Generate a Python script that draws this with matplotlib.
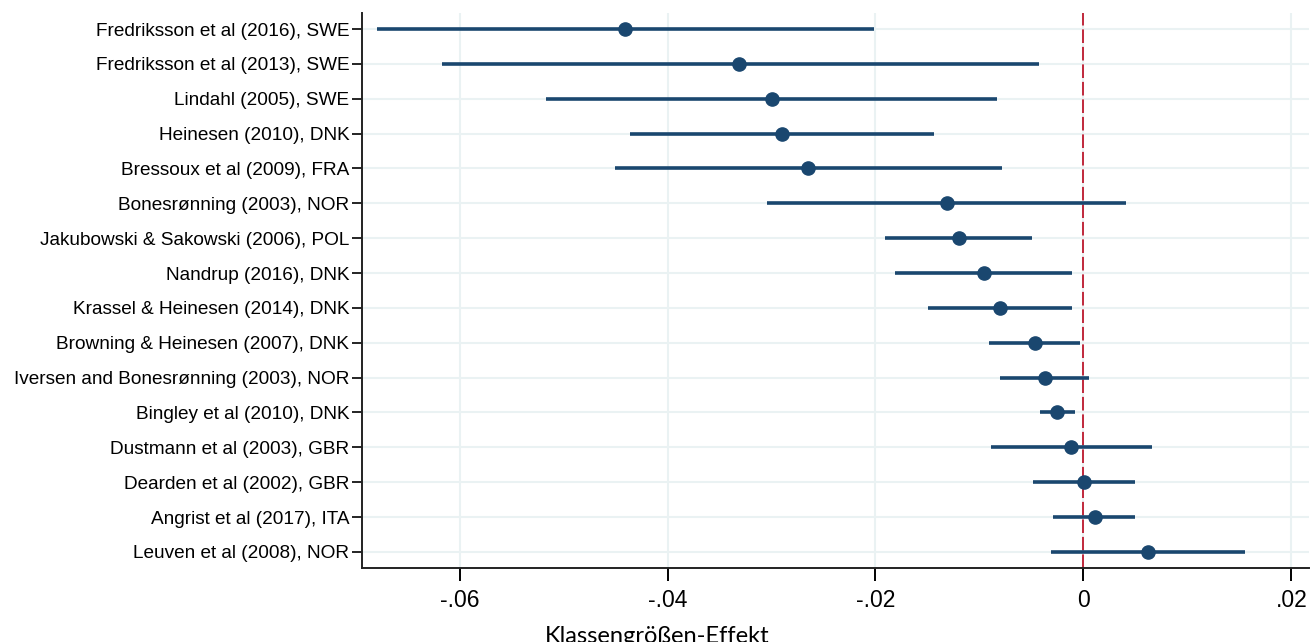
import numpy as np
import matplotlib
matplotlib.use("Agg")
import matplotlib.pyplot as plt

# ── Daten ──────────────────────────────────────────────────────────────────────

studies = [
    "Fredriksson et al (2016), SWE",
    "Fredriksson et al (2013), SWE",
    "Lindahl (2005), SWE",
    "Heinesen (2010), DNK",
    "Bressoux et al (2009), FRA",
    "Bonesrønning (2003), NOR",
    "Jakubowski & Sakowski (2006), POL",
    "Nandrup (2016), DNK",
    "Krassel & Heinesen (2014), DNK",
    "Browning & Heinesen (2007), DNK",
    "Iversen and Bonesrønning (2003), NOR",
    "Bingley et al (2010), DNK",
    "Dustmann et al (2003), GBR",
    "Dearden et al (2002), GBR",
    "Angrist et al (2017), ITA",
    "Leuven et al (2008), NOR",
]
effect = [-0.0441, -0.0331, -0.0300, -0.0290, -0.0265, -0.0131, -0.0120, -0.0096,
          -0.0080, -0.0047, -0.0037, -0.0025, -0.0012, 0.0001, 0.0011, 0.0062]
ci_low = [-0.0680, -0.0617, -0.0517, -0.0436, -0.0451, -0.0304, -0.0191, -0.0181,
          -0.0149, -0.0091, -0.0080, -0.0042, -0.0089, -0.0048, -0.0029, -0.0031]
ci_high = [-0.0201, -0.0043, -0.0083, -0.0144, -0.0078, 0.0041, -0.0049, -0.0011,
           -0.0011, -0.0003, 0.0005, -0.0008, 0.0066, 0.0050, 0.0050, 0.0155]
x_ticks = [-0.06, -0.04, -0.02, 0.0, 0.02]
x_ticklabels = ["-.06", "-.04", "-.02", "0", ".02"]
x_title = "Klassengrößen-Effekt"

NAVY = "#1a476f"
RED = "#c0283c"
GRID = "#eaf2f3"

# ── Plot ───────────────────────────────────────────────────────────────────────

fig = plt.figure(figsize=(13.1, 6.42), dpi=100)
ax = fig.add_axes([0.2763, 0.1153, 0.7229, 0.8645])

n = len(studies)
ypos = np.arange(n, 0, -1)

ax.hlines(ypos, ci_low, ci_high, color=NAVY, lw=2.6, zorder=3)
ax.plot(effect, ypos, "o", color=NAVY, ms=9.5, zorder=4)
ax.axvline(0, color=RED, lw=1.4, dashes=(7, 2), zorder=2)

ax.set_xlim(-0.0694, 0.0217)
ax.set_ylim(0.54, n + 0.46)

ax.set_yticks(ypos)
ax.set_yticklabels(studies, fontsize=13.7, family=["Liberation Sans", "DejaVu Sans"])
ax.set_xticks(x_ticks)
ax.set_xticklabels(x_ticklabels, fontsize=16.5, family="Liberation Sans")
ax.set_xlabel(x_title, fontsize=17, family="Lato")
# Titel ist auf die Abbildung zentriert, nicht auf die Achse
ax.xaxis.set_label_coords(0.3115, -0.105)

ax.tick_params(axis="y", length=7, width=1.2, pad=2)
ax.tick_params(axis="x", length=9, width=1.4, pad=6)

ax.grid(True, color=GRID, lw=1.5, zorder=0)
ax.set_axisbelow(True)

for s in ["top", "right"]:
    ax.spines[s].set_visible(False)
for s in ["left", "bottom"]:
    ax.spines[s].set_linewidth(1.4)
    ax.spines[s].set_color("#222222")

fig.savefig("out.png", dpi=100)
plt.close(fig)
